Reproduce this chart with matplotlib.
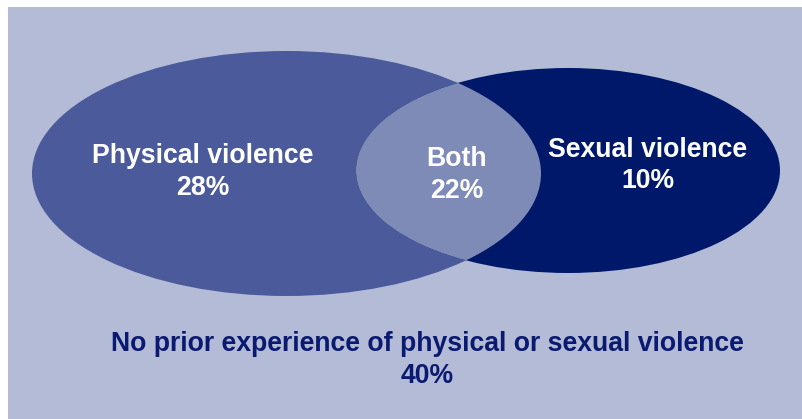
import matplotlib
matplotlib.use("Agg")
import matplotlib.pyplot as plt
from matplotlib.patches import Ellipse, Rectangle

# Data
categories = ["Physical violence", "Both", "Sexual violence",
              "No prior experience of physical or sexual violence"]
percents = [28, 22, 10, 40]

W, H = 802, 419
fig = plt.figure(figsize=(W / 100, H / 100), dpi=100)
ax = fig.add_axes([0, 0, 1, 1])
ax.set_xlim(0, W)
ax.set_ylim(H, 0)
ax.axis("off")

bg = "#B3BBD6"
c_left = "#4A5A9A"
c_right = "#00186A"
c_both = "#7E8BB6"
navy = "#0A1A70"

ax.add_patch(Rectangle((8, 7), W - 8, H - 7, facecolor=bg, edgecolor="none"))

left = Ellipse((286.5, 173.5), 509, 245, facecolor=c_left, edgecolor="none")
right = Ellipse((568, 170.5), 424, 205, facecolor=c_right, edgecolor="none")
ax.add_patch(left)
ax.add_patch(right)
lens = Ellipse((286.5, 173.5), 509, 245, facecolor=c_both, edgecolor="none")
ax.add_patch(lens)
clip = Ellipse((568, 170.5), 424, 205, facecolor="none", edgecolor="none")
ax.add_patch(clip)
lens.set_clip_path(clip)

font = dict(family=["Liberation Sans", "DejaVu Sans"], fontweight="bold", fontsize=19.2)

# label positions (x center, baseline of name, baseline of percent)
pos = [(203, 163, 195), (457, 166, 198), (648, 157, 188), (427, 351, 383)]
colors = ["white", "white", "white", navy]
for cat, pct, (x, y1, y2), col in zip(categories, percents, pos, colors):
    ax.text(x, y1, cat, ha="center", va="baseline", color=col, **font)
    ax.text(x, y2, f"{pct}%", ha="center", va="baseline", color=col, **font)

fig.savefig("out.png", dpi=100, facecolor="white")
